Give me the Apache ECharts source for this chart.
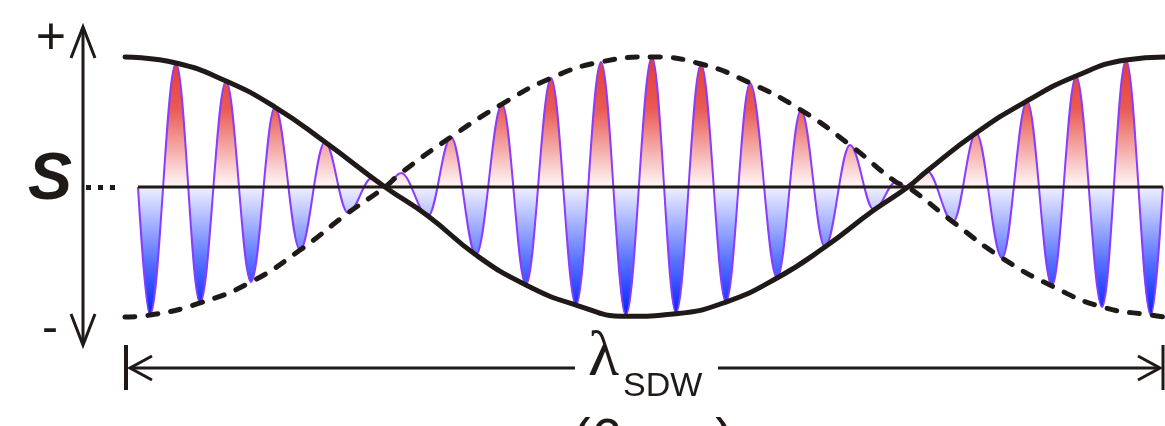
<!DOCTYPE html>
<html>
<head>
<meta charset="utf-8">
<script src="https://cdn.jsdelivr.net/npm/echarts@6/dist/echarts.min.js"></script>
<style>
  html, body { margin: 0; padding: 0; background: #fff; }
  #sdw { width: 1165px; height: 426px; }
</style>
</head>
<body>
<div id="sdw"></div>
<script>
// position along one SDW period, nm (0 .. 6)
var waveX = [0.075, 0.144, 0.294, 0.433, 0.583, 0.727, 0.865, 1.010, 1.154, 1.287, 1.425, 1.500,
  1.592, 1.748, 1.881, 2.025, 2.175, 2.313, 2.458, 2.602, 2.746, 2.890, 3.040, 3.179, 3.323,
  3.467, 3.606, 3.762, 3.900, 4.038, 4.183, 4.321, 4.448, 4.517, 4.627, 4.777, 4.910, 5.060,
  5.204, 5.348, 5.487, 5.637, 5.775, 5.919, 5.988];
// spin value at each extremum of the oscillation (S, -1 .. +1)
var waveS = [0, -0.985, 0.954, -0.892, 0.815, -0.731, 0.615, -0.485, 0.346, -0.200, 0.069, 0,
  0.108, -0.223, 0.385, -0.523, 0.638, -0.754, 0.838, -0.908, 0.962, -0.985, 1.0, -0.969, 0.946,
  -0.885, 0.800, -0.700, 0.592, -0.462, 0.323, -0.177, 0.038, 0, 0.123, -0.269, 0.415, -0.546,
  0.662, -0.762, 0.854, -0.923, 0.977, -0.985, 0];

// solid envelope
var solidX = [0, 0.294, 0.583, 0.865, 1.154, 1.500, 1.748, 2.025, 2.313, 2.602, 2.890,
  3.179, 3.467, 3.762, 4.038, 4.321, 4.517, 4.627, 4.910, 5.204, 5.487, 5.775, 6.000];
var solidS = [1.0, 0.954, 0.815, 0.615, 0.346, 0, -0.223, -0.523, -0.754, -0.908, -0.995,
  -0.975, -0.885, -0.700, -0.462, -0.177, 0, 0.123, 0.415, 0.662, 0.854, 0.977, 1.0];

// dashed envelope
var dashX = [0, 0.144, 0.433, 0.727, 1.010, 1.287, 1.500, 1.592, 1.881, 2.175, 2.458, 2.746,
  3.040, 3.323, 3.606, 3.900, 4.183, 4.448, 4.517, 4.777, 5.060, 5.348, 5.637, 5.919, 6.000];
var dashS = [-1.0, -0.985, -0.892, -0.731, -0.485, -0.200, 0, 0.108, 0.385, 0.638, 0.838, 0.962,
  1.0, 0.946, 0.800, 0.592, 0.323, 0.038, 0, -0.269, -0.546, -0.762, -0.923, -0.985, -1.0];

// zero line
var baseX = [0.075, 5.988];
var baseS = [0, 0];

function pairs(xs, ys) {
  var out = [];
  for (var i = 0; i < xs.length; i++) out.push([xs[i], ys[i]]);
  return out;
}

var ink = "#1f1a17";
var myChart = echarts.init(document.getElementById("sdw"));

var option = {
  animation: false,
  grid: { left: 125, right: 0, top: 57, bottom: 109 },
  xAxis: { type: "value", min: 0, max: 6, show: false },
  yAxis: { type: "value", min: -1, max: 1, show: false },
  series: [
    {
      type: "line",
      data: pairs(waveX, waveS),
      smooth: 0.363,
      smoothMonotone: "x",
      symbol: "none",
      clip: false,
      lineStyle: { color: "#8a3cff", width: 2 },
      areaStyle: {
        opacity: 1,
        color: new echarts.graphic.LinearGradient(0, 57, 0, 317, [
          { offset: 0, color: "#e53a32" },
          { offset: 0.2, color: "#e95a54" },
          { offset: 0.5, color: "#fff8f8" },
          { offset: 0.5, color: "#f0f0ff" },
          { offset: 0.78, color: "#5a74ff" },
          { offset: 1, color: "#0020ff" },
        ], true),
      },
      z: 1,
    },
    {
      type: "line",
      data: pairs(baseX, baseS),
      symbol: "none",
      clip: false,
      lineStyle: { color: ink, width: 3 },
      z: 2,
    },
    {
      type: "line",
      data: pairs(solidX, solidS),
      smooth: true,
      symbol: "none",
      clip: false,
      lineStyle: { color: ink, width: 5, cap: "round" },
      z: 3,
    },
    {
      type: "line",
      data: pairs(dashX, dashS),
      smooth: true,
      symbol: "none",
      clip: false,
      lineStyle: { color: ink, width: 5, type: [10, 13], cap: "round" },
      z: 3,
    },
  ],
  graphic: [
    // vertical S axis with two arrow heads
    { type: "line", shape: { x1: 83, y1: 28, x2: 83, y2: 344 }, style: { stroke: ink, lineWidth: 3 } },
    { type: "polyline", shape: { points: [[71, 58], [83, 27], [95, 58]] }, style: { stroke: ink, lineWidth: 3, fill: null } },
    { type: "polyline", shape: { points: [[71, 314], [83, 345], [95, 314]] }, style: { stroke: ink, lineWidth: 3, fill: null } },
    { type: "text", style: { text: "+", x: 51, y: 40, fontSize: 52, fontFamily: "Liberation Sans", fill: ink, textAlign: "center", textVerticalAlign: "middle" } },
    { type: "text", style: { text: "-", x: 50, y: 330, fontSize: 48, fontFamily: "Liberation Sans", fill: ink, textAlign: "center", textVerticalAlign: "middle" } },
    { type: "text", style: { text: "S", x: 50, y: 181, fontSize: 66, fontWeight: "bold", fontStyle: "italic", fontFamily: "Liberation Sans", fill: ink, textAlign: "center", textVerticalAlign: "middle" } },
    { type: "rect", shape: { x: 86, y: 185, width: 5, height: 5 }, style: { fill: ink } },
    { type: "rect", shape: { x: 98, y: 185, width: 5, height: 5 }, style: { fill: ink } },
    { type: "rect", shape: { x: 110, y: 185, width: 5, height: 5 }, style: { fill: ink } },
    // wavelength dimension arrow
    { type: "line", shape: { x1: 126, y1: 345, x2: 126, y2: 390 }, style: { stroke: ink, lineWidth: 4 } },
    { type: "line", shape: { x1: 1163, y1: 345, x2: 1163, y2: 390 }, style: { stroke: ink, lineWidth: 3 } },
    { type: "line", shape: { x1: 130, y1: 368, x2: 575, y2: 368 }, style: { stroke: ink, lineWidth: 3 } },
    { type: "line", shape: { x1: 718, y1: 368, x2: 1160, y2: 368 }, style: { stroke: ink, lineWidth: 3 } },
    { type: "polyline", shape: { points: [[152, 356], [130, 368], [152, 380]] }, style: { stroke: ink, lineWidth: 3, fill: null } },
    { type: "polyline", shape: { points: [[1138, 356], [1160, 368], [1138, 380]] }, style: { stroke: ink, lineWidth: 3, fill: null } },
    { type: "text", style: { text: "λ", x: 588, y: 358, fontSize: 64, fontFamily: "Liberation Serif", fill: ink, textAlign: "left", textVerticalAlign: "middle" } },
    { type: "text", style: { text: "SDW", x: 623, y: 387, fontSize: 34, fontFamily: "Liberation Sans", fill: ink, textAlign: "left", textVerticalAlign: "middle" } },
    { type: "text", style: { text: "(6 nm)", x: 653, y: 442, fontSize: 56, fontFamily: "Liberation Sans", fill: ink, textAlign: "center", textVerticalAlign: "middle" } },
  ],
};

myChart.setOption(option);
</script>
</body>
</html>
